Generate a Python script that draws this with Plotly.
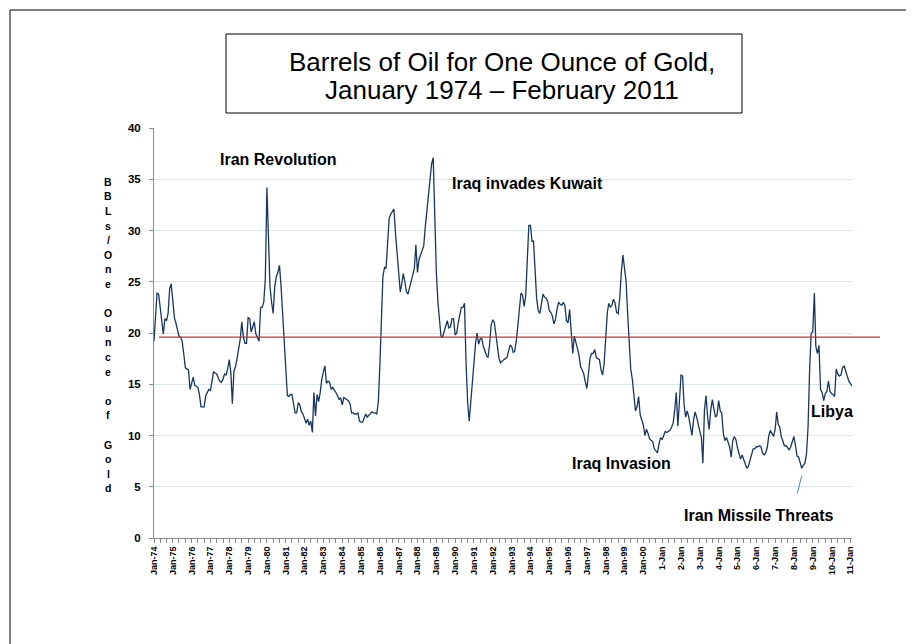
import pandas as pd
import plotly.graph_objects as go

# ---------------- data ----------------
start_month = "1974-01-01"
ratio = [
    19.2, 21.5, 23.9, 23.8, 22.5, 21.0, 19.9, 21.4, 21.2, 21.9, 24.3, 24.8,   # 1974
    22.7, 21.5, 21.0, 20.2, 19.7, 19.6, 19.2, 18.0, 16.6, 16.5, 16.4, 14.5,   # 1975
    15.1, 15.7, 14.9, 14.8, 14.7, 14.0, 12.8, 12.8, 12.8, 13.9, 14.3, 14.5,   # 1976
    14.4, 15.5, 16.2, 16.1, 16.0, 15.6, 15.3, 15.2, 15.5, 16.0, 15.9, 16.5,   # 1977
    17.4, 16.1, 13.1, 16.3, 16.7, 17.5, 18.6, 19.4, 21.1, 19.6, 19.0, 19.0,   # 1978
    21.5, 21.4, 20.1, 20.6, 21.1, 19.9, 19.5, 19.2, 22.5, 22.5, 23.0, 25.3,   # 1979
    34.2, 28.5, 24.5, 23.0, 21.9, 24.5, 25.5, 25.9, 26.6, 24.6, 21.8, 18.5,   # 1980
    15.5, 13.9, 13.8, 14.0, 14.0, 13.0, 12.2, 12.2, 13.2, 13.0, 12.3, 12.1,   # 1981
    11.6, 11.2, 11.6, 11.0, 11.4, 10.3, 14.2, 11.9, 14.0, 13.3, 14.2, 15.5,   # 1982
    16.2, 16.8, 15.1, 15.3, 15.2, 14.5, 14.7, 14.5, 14.2, 13.9, 13.5, 13.7,   # 1983
    13.0, 13.7, 13.6, 13.5, 13.4, 13.1, 12.2, 12.2, 12.1, 12.1, 12.2, 11.4,   # 1984
    11.3, 11.3, 11.6, 12.1, 11.8, 12.0, 12.1, 12.3, 12.2, 12.2, 12.1, 13.2,   # 1985
    16.8, 20.7, 25.5, 26.4, 26.3, 28.8, 31.2, 31.6, 31.8, 32.1, 29.7, 27.9,   # 1986
    25.8, 24.0, 24.8, 25.8, 25.0, 24.0, 23.8, 24.4, 25.1, 25.6, 26.3, 28.6,   # 1987
    25.9, 27.2, 27.7, 28.2, 28.5, 30.4, 31.9, 33.0, 35.0, 36.5, 37.1, 31.5,   # 1988
    25.9, 23.0, 21.4, 19.7, 19.6, 20.2, 20.7, 21.2, 20.5, 20.6, 21.4, 21.4,   # 1989
    19.8, 20.0, 21.0, 22.0, 22.5, 22.5, 22.9, 17.0, 13.2, 11.4, 13.3, 15.4,   # 1990
    17.6, 19.0, 20.0, 18.9, 19.4, 19.5, 18.7, 18.2, 17.8, 17.6, 18.9, 20.8,   # 1991
    21.3, 21.0, 19.7, 18.6, 17.5, 17.1, 17.3, 17.4, 17.5, 17.6, 18.2, 18.8,   # 1992
    18.7, 18.1, 18.2, 19.2, 20.7, 22.5, 23.9, 23.7, 22.6, 23.6, 26.8, 30.5,   # 1993
    30.5, 28.9, 29.0, 25.8, 23.4, 22.2, 21.9, 22.8, 23.8, 23.5, 23.4, 23.1,   # 1994
    22.2, 22.0, 21.7, 20.9, 21.3, 22.3, 23.0, 22.8, 22.7, 23.0, 22.7, 21.2,   # 1995
    21.0, 22.3, 19.8, 18.0, 19.7, 19.2, 18.5, 17.8, 16.7, 16.4, 16.0, 15.2,   # 1996
    14.6, 16.1, 17.5, 18.0, 18.0, 18.4, 17.6, 17.5, 17.4, 16.4, 15.9, 17.0,   # 1997
    20.0, 22.0, 22.9, 22.5, 22.7, 23.3, 22.9, 22.0, 21.9, 23.5, 26.0, 27.6,   # 1998
    26.3, 25.0, 22.0, 18.4, 16.5, 15.5, 13.6, 12.4, 12.8, 13.8, 12.0, 11.4,   # 1999
    11.0, 10.0, 10.6, 10.2, 9.7, 9.5, 9.4, 8.7, 8.5, 8.3, 9.2, 9.8,           # 2000
    9.6, 10.1, 10.4, 10.3, 10.4, 10.5, 10.8, 11.2, 12.5, 14.2, 10.9, 14.0,    # 2001
    15.9, 15.8, 13.0, 11.8, 12.4, 11.8, 10.8, 10.0, 11.5, 12.3, 11.8, 11.0,   # 2002
    10.4, 9.8, 7.3, 12.5, 13.9, 11.8, 10.6, 12.5, 13.5, 12.6, 11.8, 12.0,     # 2003
    13.4, 12.4, 12.2, 10.2, 9.5, 9.8, 9.3, 8.9, 7.9, 9.5, 9.9, 9.6,           # 2004
    8.8, 8.1, 7.7, 8.1, 7.6, 7.2, 6.8, 7.0, 7.6, 8.3, 8.7, 8.7,               # 2005
    8.9, 8.9, 9.0, 8.9, 8.3, 8.1, 8.3, 8.8, 10.0, 10.5, 10.2, 9.9,            # 2006
    10.6, 12.3, 11.1, 10.8, 9.9, 9.4, 9.0, 9.0, 8.8, 8.6, 8.9, 9.3,           # 2007
    9.9, 9.0, 8.0, 7.9, 7.2, 6.8, 7.1, 7.3, 8.2, 10.8, 16.5, 20.0,            # 2008
    20.1, 23.9, 18.7, 18.0, 18.8, 14.5, 14.2, 13.4, 14.1, 14.3, 15.3, 14.3,   # 2009
    14.1, 14.0, 13.8, 16.5, 16.0, 15.8, 15.9, 16.6, 16.8, 16.3, 15.8, 15.3,   # 2010
    15.1, 14.8,                                                              # 2011
]
average_ratio = 19.6

tick_dates = [f"{y}-01-01" for y in range(1974, 2012)]
tick_labels = [
    "Jan-74", "Jan-75", "Jan-76", "Jan-77", "Jan-78", "Jan-79", "Jan-80",
    "Jan-81", "Jan-82", "Jan-83", "Jan-84", "Jan-85", "Jan-86", "Jan-87",
    "Jan-88", "Jan-89", "Jan-90", "Jan-91", "Jan-92", "Jan-93", "Jan-94",
    "Jan-95", "Jan-96", "Jan-97", "Jan-98", "Jan-99", "Jan-00",
    "1-Jan", "2-Jan", "3-Jan", "4-Jan", "5-Jan", "6-Jan", "7-Jan", "8-Jan",
    "9-Jan", "10-Jan", "11-Jan",
]
title_lines = ["Barrels of Oil for One Ounce of Gold,", "January 1974 \u2013 February 2011"]
y_title = "BBLs/One Ounce of Gold"
events = ["Iran Revolution", "Iraq invades Kuwait", "Iraq Invasion",
          "Iran Missile Threats", "Libya"]

months = pd.date_range(start_month, periods=len(ratio), freq="MS")

# ---------------- layout helpers ----------------
# positions below are measured on the screenshot; the page adds an 8px body offset
W, H = 914, 644
OFF = 8
L, R, T, B = 154, 852, 128, 538          # plot area in screenshot pixels


def px(x):
    return (x - L) / (R - L)


def py(y):
    return (B - y) / (B - T)


FONT = "Liberation Sans, Arial, sans-serif"

fig = go.Figure()
fig.add_trace(go.Scatter(
    x=months, y=ratio, mode="lines",
    line=dict(color="#17375e", width=1.3),
    hoverinfo="x+y", showlegend=False,
))

shapes = [
    # outer frame (left and top edges visible)
    dict(type="line", xref="paper", yref="paper", x0=px(10), x1=px(10),
         y0=py(10), y1=py(H + 20), line=dict(color="black", width=1)),
    dict(type="line", xref="paper", yref="paper", x0=px(10), x1=px(W + 20),
         y0=py(10), y1=py(10), line=dict(color="black", width=1)),
    # title box
    dict(type="rect", xref="paper", yref="paper", x0=px(226), x1=px(742),
         y0=py(113), y1=py(34), line=dict(color="black", width=1),
         fillcolor="white"),
    # average line
    dict(type="line", xref="paper", yref="y", x0=px(159), x1=px(880),
         y0=average_ratio, y1=average_ratio,
         line=dict(color="#d0302e", width=1.3)),
    # small pointer line
    dict(type="line", xref="paper", yref="paper", x0=px(801.7), x1=px(797.3),
         y0=py(476), y1=py(493.5), line=dict(color="#4f81bd", width=1)),
]

annotations = []
annotations.append(dict(text=title_lines[0], x=px(502), y=py(62), xref="paper", yref="paper",
                        showarrow=False, xanchor="center", yanchor="middle",
                        font=dict(family=FONT, size=26, color="black")))
annotations.append(dict(text=title_lines[1], x=px(502), y=py(90), xref="paper", yref="paper",
                        showarrow=False, xanchor="center", yanchor="middle",
                        font=dict(family=FONT, size=26, color="black")))

event_pos = [(277.5, 160), (527, 183), (621, 463), (758, 515), (831.6, 411.7)]
for txt, (ex, ey) in zip(events, event_pos):
    annotations.append(dict(text=txt, x=px(ex), y=py(ey), xref="paper", yref="paper",
                            showarrow=False, xanchor="center", yanchor="middle",
                            font=dict(family=FONT, size=16, color="black", weight="bold")))

# stacked vertical axis title, one character per row
row0, step = 181.7, 14.6
for k, ch in enumerate(y_title):
    if ch == " ":
        continue
    annotations.append(dict(text=ch, x=px(108), y=py(row0 + k * step), xref="paper", yref="paper",
                            showarrow=False, xanchor="center", yanchor="middle",
                            font=dict(family=FONT, size=10.5, color="black", weight="bold")))

fig.update_layout(
    width=W, height=H,
    margin=dict(l=L - OFF, r=W - (R - OFF), t=T - OFF, b=H - (B - OFF)),
    paper_bgcolor="white", plot_bgcolor="white",
    shapes=shapes, annotations=annotations,
    font=dict(family=FONT, color="black"),
    xaxis=dict(
        type="date",
        range=[months[0], months[-1]],
        tickvals=tick_dates, ticktext=tick_labels,
        tickangle=-90,
        tickfont=dict(family=FONT, size=9, color="black", weight="bold"),
        showgrid=False, zeroline=False,
        showline=True, linecolor="#8c8c8c", linewidth=1,
        ticks="outside", ticklen=4, tickcolor="#8c8c8c",
        minor=dict(dtick="M4", tick0=start_month, ticks="outside", ticklen=4,
                   tickcolor="#8c8c8c", showgrid=False),
    ),
    yaxis=dict(
        range=[0, 40], dtick=5, tick0=0,
        tickfont=dict(family=FONT, size=11.5, color="black", weight="bold"),
        showgrid=True, gridcolor="#dce6f1", gridwidth=1,
        zeroline=False,
        showline=True, linecolor="#8c8c8c", linewidth=1,
        ticks="outside", ticklen=4, tickcolor="#8c8c8c",
        ticklabelstandoff=6,
    ),
)

fig.write_html("out.html")
